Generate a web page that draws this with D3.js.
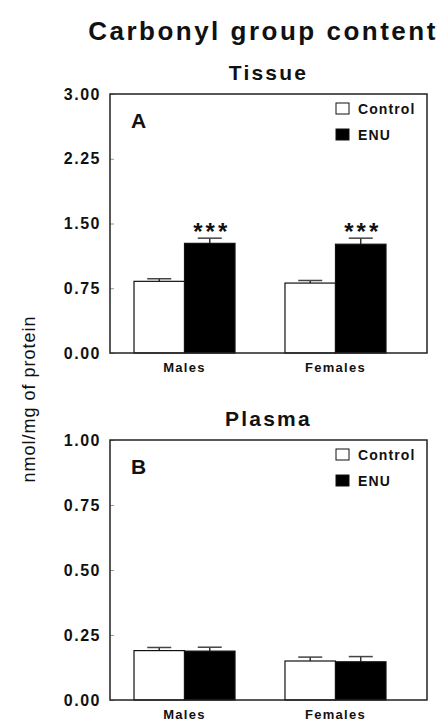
<!DOCTYPE html>
<html>
<head>
<meta charset="utf-8">
<style>
body { margin: 0; background: #fff; }
svg text { font-family: "Liberation Sans", Arial, Helvetica, sans-serif; fill: #111; }
.bold { font-weight: bold; }
</style>
</head>
<body>
<svg id="chart" width="441" height="719"></svg>
<script src="https://cdn.jsdelivr.net/npm/d3@7"></script>
<script>
// data
var groups = ["Males", "Females"];
var series = ["Control", "ENU"];

var tissueMean = [[0.83, 1.27], [0.81, 1.26]];
var tissueErr  = [[0.03, 0.06], [0.03, 0.07]];
var tissueSig  = ["***", "***"];
var tissueTicks = [0, 0.75, 1.50, 2.25, 3.00];

var plasmaMean = [[0.19, 0.188], [0.15, 0.147]];
var plasmaErr  = [[0.012, 0.015], [0.015, 0.02]];
var plasmaTicks = [0, 0.25, 0.50, 0.75, 1.00];

var fills = { Control: "#fff", ENU: "#000" };

var svg = d3.select("#chart");

svg.append("text")
    .attr("class", "bold")
    .attr("x", 263)
    .attr("y", 40)
    .attr("text-anchor", "middle")
    .style("font-size", "26px")
    .style("letter-spacing", "2.5px")
    .text("Carbonyl group content");

svg.append("text")
    .attr("transform", "translate(35,399) rotate(-90)")
    .attr("text-anchor", "middle")
    .style("font-size", "18px")
    .style("letter-spacing", "1px")
    .text("nmol/mg of protein");

function panel(opts) {
  var left = 110, right = 427, top = opts.top, bottom = opts.bottom;
  var g = svg.append("g");

  var y = d3.scaleLinear().domain([0, opts.ticks[opts.ticks.length - 1]]).range([bottom, top]);
  var x = d3.scaleBand().domain(groups).range([left, 410]).paddingInner(0.331).paddingOuter(0.159);
  var xs = d3.scaleBand().domain(series).range([0, x.bandwidth()]);

  // subtitle
  g.append("text")
      .attr("class", "bold")
      .attr("x", (left + right) / 2)
      .attr("y", top - 14)
      .attr("text-anchor", "middle")
      .style("font-size", "21px")
      .style("letter-spacing", "2.2px")
      .text(opts.title);

  // y axis
  var yAxis = g.append("g")
      .attr("transform", "translate(" + left + ",0)")
      .call(d3.axisLeft(y).tickValues(opts.ticks).tickFormat(d3.format(".2f")).tickSize(-4).tickPadding(9));
  yAxis.select(".domain").remove();
  yAxis.selectAll(".tick line").attr("stroke", "#999");
  yAxis.selectAll("text")
      .attr("class", "bold")
      .style("font-size", "16px")
      .style("letter-spacing", "1.5px")
      .style("font-family", "Liberation Sans, Arial, sans-serif")
      .attr("fill", "#111");

  // x labels
  var xAxis = g.append("g")
      .attr("transform", "translate(0," + bottom + ")")
      .call(d3.axisBottom(x).tickSize(0).tickPadding(10));
  xAxis.select(".domain").remove();
  xAxis.selectAll("text")
      .attr("class", "bold")
      .style("font-size", "13px")
      .style("letter-spacing", "1.3px")
      .style("font-family", "Liberation Sans, Arial, sans-serif")
      .attr("fill", "#111");

  var rows = [];
  groups.forEach(function(grp, i) {
    series.forEach(function(s, j) {
      rows.push({ group: grp, series: s, v: opts.mean[i][j], e: opts.err[i][j] });
    });
  });

  var bar = g.selectAll(".bar").data(rows).enter().append("g")
      .attr("transform", function(d) { return "translate(" + (x(d.group) + xs(d.series)) + ",0)"; });

  var w = xs.bandwidth();
  // error bars (upward only)
  bar.append("line")
      .attr("x1", w / 2).attr("x2", w / 2)
      .attr("y1", function(d) { return y(d.v); })
      .attr("y2", function(d) { return y(d.v + d.e); })
      .attr("stroke", "#333").attr("stroke-width", 1.5);
  bar.append("line")
      .attr("x1", w / 2 - 12).attr("x2", w / 2 + 12)
      .attr("y1", function(d) { return y(d.v + d.e); })
      .attr("y2", function(d) { return y(d.v + d.e); })
      .attr("stroke", "#444").attr("stroke-width", 1.5);

  bar.append("rect")
      .attr("x", 0)
      .attr("y", function(d) { return y(d.v); })
      .attr("width", w)
      .attr("height", function(d) { return bottom - y(d.v); })
      .attr("fill", function(d) { return fills[d.series]; })
      .attr("stroke", "#111")
      .attr("stroke-width", 1.2);

  if (opts.sig) {
    groups.forEach(function(grp, i) {
      var top_ = opts.mean[i][1] + opts.err[i][1];
      g.append("text")
          .attr("class", "bold")
          .attr("x", x(grp) + xs("ENU") + w / 2 + 2)
          .attr("y", y(top_) + 2)
          .attr("text-anchor", "middle")
          .style("font-size", "24px")
          .style("letter-spacing", "3px")
          .text(opts.sig[i]);
    });
  }

  // frame
  g.append("rect")
      .attr("x", left).attr("y", top)
      .attr("width", right - left).attr("height", bottom - top)
      .attr("fill", "none").attr("stroke", "#222").attr("stroke-width", 1.5);

  // panel letter
  g.append("text")
      .attr("class", "bold")
      .attr("x", 131).attr("y", top + 34)
      .style("font-size", "21px")
      .text(opts.letter);

  // legend
  var leg = g.selectAll(".leg").data(series).enter().append("g")
      .attr("transform", function(d, i) { return "translate(336," + (top + 9 + i * 26) + ")"; });
  leg.append("rect")
      .attr("width", 13).attr("height", 11)
      .attr("fill", function(d) { return fills[d]; })
      .attr("stroke", "#111").attr("stroke-width", 1);
  leg.append("text")
      .attr("class", "bold")
      .attr("x", 22).attr("y", 11)
      .style("font-size", "14px")
      .style("letter-spacing", "1.1px")
      .text(function(d) { return d; });
}

panel({ top: 94, bottom: 353, title: "Tissue", letter: "A", ticks: tissueTicks,
        mean: tissueMean, err: tissueErr, sig: tissueSig });
panel({ top: 440, bottom: 700, title: "Plasma", letter: "B", ticks: plasmaTicks,
        mean: plasmaMean, err: plasmaErr, sig: null });
</script>
</body>
</html>
